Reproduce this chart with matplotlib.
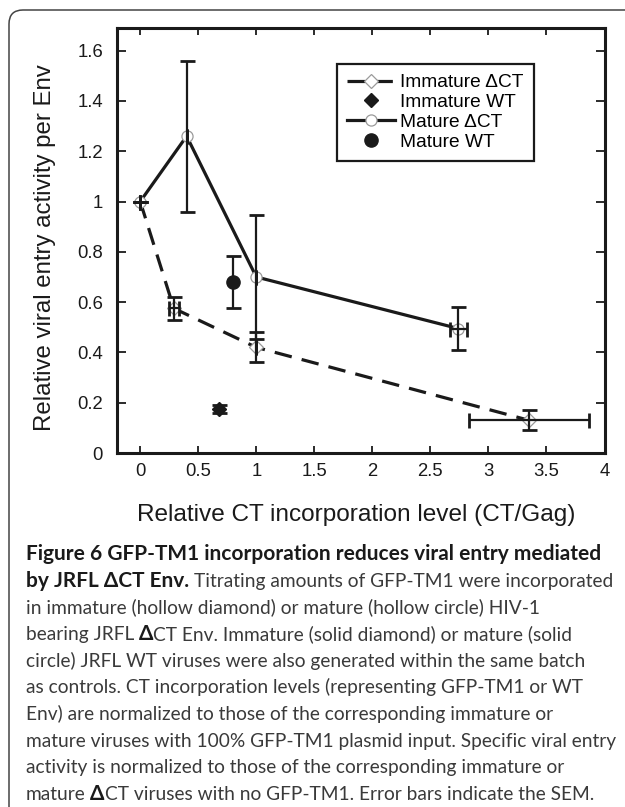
import matplotlib
matplotlib.use('Agg')
import matplotlib.pyplot as plt
from matplotlib.patches import FancyBboxPatch
from matplotlib.transforms import IdentityTransform
from matplotlib.ticker import FuncFormatter

# ---------------- data ----------------
imm_dct_x = [0.0, 0.29, 1.0, 3.35]
imm_dct_y = [1.0, 0.575, 0.42, 0.13]
imm_dct_yerr = [0.0, 0.045, 0.06, 0.04]
imm_dct_xerr = [0.0, 0.04, 0.0, 0.52]

mat_dct_x = [0.0, 0.4, 1.0, 2.74]
mat_dct_y = [1.0, 1.26, 0.70, 0.495]
mat_dct_yerr = [0.0, 0.30, 0.245, 0.085]
mat_dct_xerr = [0.0, 0.0, 0.0, 0.075]

imm_wt_x = [0.68]
imm_wt_y = [0.175]
imm_wt_yerr = [0.015]

mat_wt_x = [0.8]
mat_wt_y = [0.68]
mat_wt_yerr = [0.105]

series_labels = ["Immature \u0394CT", "Immature WT", "Mature \u0394CT", "Mature WT"]
x_ticks = [0, 0.5, 1, 1.5, 2, 2.5, 3, 3.5, 4]
y_ticks = [0, 0.2, 0.4, 0.6, 0.8, 1.0, 1.2, 1.4, 1.6]
x_label = "Relative CT incorporation level (CT/Gag)"
y_label = "Relative viral entry activity per Env"

caption_lines = [
    [("Figure 6 GFP-TM1 incorporation reduces viral entry mediated", True)],
    [("by JRFL \u0394CT Env.", True), (" Titrating amounts of GFP-TM1 were incorporated", False)],
    [("in immature (hollow diamond) or mature (hollow circle) HIV-1", False)],
    [("bearing JRFL", False), (" \u0394", True), ("CT Env. Immature (solid diamond) or mature (solid", False)],
    [("circle) JRFL WT viruses were also generated within the same batch", False)],
    [("as controls. CT incorporation levels (representing GFP-TM1 or WT", False)],
    [("Env) are normalized to those of the corresponding immature or", False)],
    [("mature viruses with 100% GFP-TM1 plasmid input. Specific viral entry", False)],
    [("activity is normalized to those of the corresponding immature or", False)],
    [("mature", False), (" \u0394", True), ("CT viruses with no GFP-TM1. Error bars indicate the SEM.", False)],
]

# ---------------- figure ----------------
W, H = 625, 807
plt.rcParams['font.family'] = ['Liberation Sans', 'DejaVu Sans']
fig = plt.figure(figsize=(W / 100, H / 100), dpi=100)

# rounded frame (open to the right and bottom edges)
frame = FancyBboxPatch((9, -40), 700, H - 10 + 40, boxstyle="round,pad=0,rounding_size=14",
                       transform=IdentityTransform(), fill=False, edgecolor='#444444', linewidth=1.1)
fig.patches.append(frame)

ax = fig.add_axes([117 / W, 1 - 453 / H, (604.5 - 117) / W, (453 - 28) / H])
ax.set_xlim(-0.2, 4.0)
ax.set_ylim(0, 1.69)

ink = '#1a1a1a'
lw_main = 2.3
ax.plot(imm_dct_x, imm_dct_y, color=ink, lw=lw_main, ls=(0, (5.5, 3.2)),
        marker='D', ms=7, mfc='white', mec='#9a9a9a', mew=0.9, label=series_labels[0], zorder=3)
ax.plot(imm_wt_x, imm_wt_y, ls='none', marker='D', ms=7, color=ink, label=series_labels[1], zorder=4)
ax.plot(mat_dct_x, mat_dct_y, color=ink, lw=lw_main, ls='-',
        marker='o', ms=8, mfc='white', mec='#9a9a9a', mew=0.9, label=series_labels[2], zorder=3)
ax.plot(mat_wt_x, mat_wt_y, ls='none', marker='o', ms=9.5, color=ink, label=series_labels[3], zorder=4)

eb_kw = dict(fmt='none', ecolor=ink, elinewidth=1.6, capsize=5.4, capthick=2.0, zorder=5)
ax.errorbar(imm_dct_x, imm_dct_y, yerr=imm_dct_yerr, xerr=imm_dct_xerr, **eb_kw)
ax.errorbar(mat_dct_x, mat_dct_y, yerr=mat_dct_yerr, xerr=mat_dct_xerr, **eb_kw)
ax.errorbar(imm_wt_x, imm_wt_y, yerr=imm_wt_yerr, **eb_kw)
ax.errorbar(mat_wt_x, mat_wt_y, yerr=mat_wt_yerr, **eb_kw)

for s in ax.spines.values():
    s.set_linewidth(2.2)
    s.set_color(ink)

ax.set_xticks(x_ticks)
ax.set_yticks(y_ticks)
fmt = FuncFormatter(lambda v, p: ('%g' % round(v, 2)))
ax.xaxis.set_major_formatter(fmt)
ax.yaxis.set_major_formatter(fmt)
ax.tick_params(axis='x', direction='in', length=5, width=1.3, top=True, bottom=True,
               labelsize=13.3, pad=7, colors=ink)
ax.tick_params(axis='y', direction='in', length=6.5, width=1.3, left=True, right=True,
               labelsize=13.3, pad=10, colors=ink)

ax.set_xlabel(x_label, fontsize=17.6, color=ink)
ax.xaxis.set_label_coords(0.49, (453 - 515) / 425)
ax.xaxis.label.set_va('center')
ax.set_ylabel(y_label, fontsize=17.3, color=ink)
ax.yaxis.set_label_coords((45 - 117) / 487.5, (453 - 248) / 425)
ax.yaxis.label.set_va('center')

leg = ax.legend(loc='upper left', bbox_to_anchor=((337 - 117) / 487.5, (453 - 64) / 425),
                borderaxespad=0, frameon=True, fancybox=False, edgecolor=ink,
                fontsize=13.8, handlelength=2.5, handletextpad=0.28, labelspacing=0.12,
                borderpad=0.52, framealpha=1)
leg.get_frame().set_linewidth(1.6)

# ---------------- caption ----------------
renderer = fig.canvas.get_renderer()
cap_family = ['Lato', 'DejaVu Sans']


def text_width(s, size, bold):
    t = fig.text(0, 0, s, fontsize=size, fontweight='bold' if bold else 'normal', family=cap_family)
    w = t.get_window_extent(renderer).width
    t.remove()
    return w


# fit font sizes to the reference line widths
reg_fs = 12 * 588 / text_width(caption_lines[7][0][0], 12, False)
bold_fs = 12 * 571 / text_width(caption_lines[0][0][0], 12, True)


def space_width(size, bold):
    return text_width("x x", size, bold) - text_width("xx", size, bold)


x0 = 25.5
base0 = 560
step = 26.67
for i, segs in enumerate(caption_lines):
    y = 1 - (base0 + i * step) / H
    x = x0
    for txt, bold in segs:
        fs = bold_fs if bold else reg_fs
        if txt.startswith(' '):
            x += space_width(fs, bold)
            txt = txt[1:]
        t = fig.text(x / W, y, txt, fontsize=fs, fontweight='bold' if bold else 'normal',
                     family=cap_family, color=ink if bold else '#3a3a3a',
                     ha='left', va='baseline')
        x = t.get_window_extent(renderer).x1

fig.savefig('out.png', dpi=100)
